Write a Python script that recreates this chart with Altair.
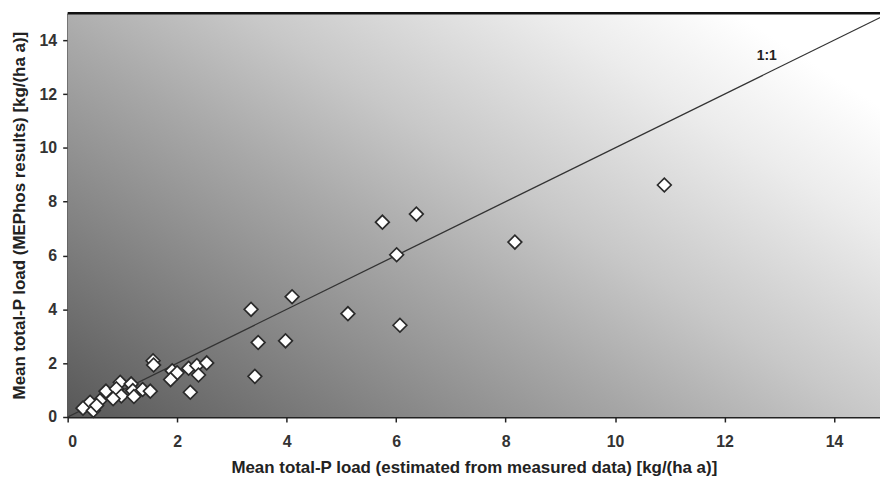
import altair as alt
import pandas as pd

# Measured (x) vs MEPhos (y) mean total-P loads [kg/(ha a)]
x_measured = [10.9, 8.17, 6.37, 5.75, 6.01, 6.07, 5.12, 4.10, 3.35, 3.48, 3.98, 3.42,
              1.56, 1.57, 1.91, 2.00, 2.21, 2.36, 2.54, 2.39, 1.88, 2.24,
              0.96, 1.16, 0.70, 0.89, 1.19, 1.37, 1.51, 0.98, 1.21, 0.83, 0.59,
              0.41, 0.28, 0.47, 0.53]
y_mephos = [8.62, 6.50, 7.54, 7.24, 6.03, 3.41, 3.84, 4.47, 4.00, 2.77, 2.83, 1.51,
            2.09, 1.93, 1.72, 1.64, 1.81, 1.91, 2.01, 1.56, 1.39, 0.92,
            1.29, 1.23, 0.96, 1.05, 0.98, 1.02, 0.96, 0.78, 0.76, 0.68, 0.61,
            0.55, 0.33, 0.24, 0.43]

line_x = [0, 15]
line_y = [0, 15]
label_text = ["1:1"]
label_x = [12.77]
label_y = [13.42]

x_ticks = [0, 2, 4, 6, 8, 10, 12, 14]
y_ticks = [0, 2, 4, 6, 8, 10, 12, 14]
x_domain = [0, 14.84]
y_domain = [0, 15]

W, H = 817, 406
FONT = "'Liberation Sans', Arial, sans-serif"

pts = pd.DataFrame({"x": x_measured, "y": y_mephos})
line_df = pd.DataFrame({"x": line_x, "y": line_y})
lab_df = pd.DataFrame({"x": label_x, "y": label_y, "t": label_text})

xscale = alt.Scale(domain=x_domain, nice=False, zero=False)
yscale = alt.Scale(domain=y_domain, nice=False, zero=False)

common = dict(grid=False, tickSize=5, tickColor="#222", tickWidth=1.5,
              domainColor="#222", domainWidth=1.8, format="d",
              labelFont=FONT, labelFontSize=16, labelFontWeight="bold", labelColor="#333",
              titleFont=FONT, titleFontSize=17, titleFontWeight="bold", titleColor="#222")

xaxis = alt.Axis(values=x_ticks, title="Mean total-P load (estimated from measured data) [kg/(ha a)]",
                 labelPadding=12, titlePadding=10, **common)
yaxis = alt.Axis(values=y_ticks, title="Mean total-P load (MEPhos results) [kg/(ha a)]",
                 labelPadding=6, titlePadding=11, **common)

grad = alt.LinearGradient(
    gradient="linear", x1=0, y1=1, x2=1, y2=0.23,
    stops=[alt.GradientStop(color="#585858", offset=0),
           alt.GradientStop(color="#a8a8a8", offset=0.45),
           alt.GradientStop(color="#c8c8c8", offset=0.62),
           alt.GradientStop(color="#ececec", offset=0.85),
           alt.GradientStop(color="#ffffff", offset=1)])

bg = alt.Chart(alt.Data(values=[{"a": 1}])).mark_rect(color=grad).encode(
    x=alt.value(0), x2=alt.value(W), y=alt.value(0), y2=alt.value(H))

topline = alt.Chart(alt.Data(values=[{"a": 1}])).mark_rule(color="#111", strokeWidth=2.5).encode(
    x=alt.value(0), x2=alt.value(W), y=alt.value(0))

line = alt.Chart(line_df).mark_line(color="#333", strokeWidth=1.3, clip=True).encode(
    x=alt.X("x:Q", scale=xscale, axis=xaxis),
    y=alt.Y("y:Q", scale=yscale, axis=yaxis))

points = alt.Chart(pts).mark_point(shape="diamond", filled=True, fill="white", stroke="#2a2a2a",
                                   strokeWidth=1.7, size=190, opacity=1).encode(
    x=alt.X("x:Q", scale=xscale), y=alt.Y("y:Q", scale=yscale))

label = alt.Chart(lab_df).mark_text(font=FONT, fontSize=14, fontWeight="bold", color="#222").encode(
    x=alt.X("x:Q", scale=xscale), y=alt.Y("y:Q", scale=yscale), text="t:N")

chart = alt.layer(bg, line, points, label, topline).properties(
    width=W, height=H,
    autosize=alt.AutoSizeParams(type="none"),
    padding={"left": 60, "top": 4, "right": 0, "bottom": 62},
).configure_view(stroke=None).configure(background="white")

chart.save("out.html", embed_options={"renderer": "svg", "actions": False})
